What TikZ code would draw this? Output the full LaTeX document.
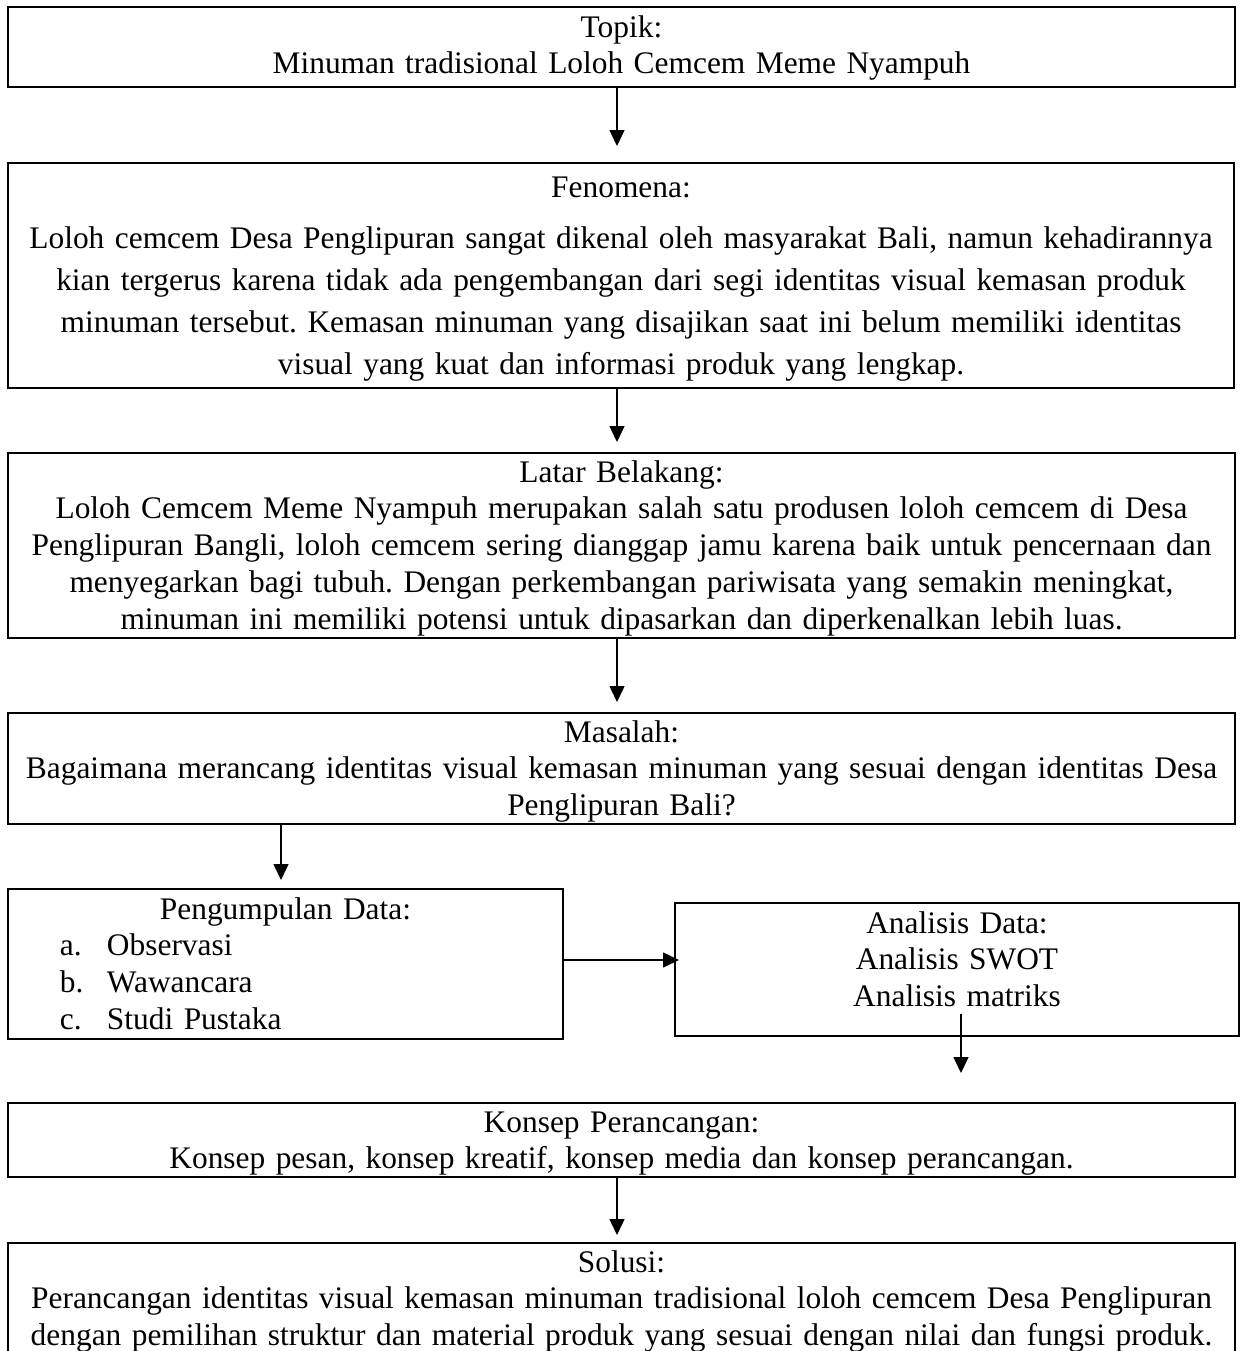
\documentclass[tikz,border=0pt]{standalone}
\usepackage{fontspec}
\setmainfont{Liberation Serif}
\usetikzlibrary{arrows.meta}
\frenchspacing
\newcommand{\dataitem}[2]{\makebox[277.5pt][l]{\hspace*{26pt}\makebox[23.5pt][l]{#1}#2}}
\tikzset{
  box/.style={draw=black, line width=1pt},
  txt/.style={anchor=base, align=center, font=\fontsize{15.7pt}{18.4pt}\selectfont},
  arr/.style={line width=0.75pt, -{Triangle[length=8pt, width=7.5pt]}, color=black},
}
\begin{document}
\begin{tikzpicture}
[every node/.style={inner sep=0pt}]
\useasboundingbox (0pt, 0pt) rectangle (622pt, -675.5pt);
% boxes
\node (topik) [box, minimum width=613.5pt, minimum height=40pt] at (310.75pt, -23.5pt) {};
\node (fenomena) [box, minimum width=613pt, minimum height=112.5pt] at (310.5pt, -137.75pt) {};
\node (latar) [box, minimum width=613.5pt, minimum height=92.5pt] at (310.75pt, -272.75pt) {};
\node (masalah) [box, minimum width=613.5pt, minimum height=55.5pt] at (310.75pt, -384.25pt) {};
\node (kumpul) [box, minimum width=277.5pt, minimum height=75pt] at (142.75pt, -482pt) {};
\node (analisis) [box, minimum width=282pt, minimum height=66.5pt] at (478.5pt, -484.75pt) {};
\node (konsep) [box, minimum width=613.5pt, minimum height=37pt] at (310.75pt, -570pt) {};
\node (solusi) [box, minimum width=613.5pt, minimum height=57pt] at (310.75pt, -650pt) {};
% texts
\node (topik-txt) [txt, text width=613.5pt] at (310.75pt, -18.5pt) {Topik:\\Minuman tradisional Loloh Cemcem Meme Nyampuh};
\node (fenomena-txt) [txt, text width=613pt] at (310.5pt, -98.5pt) {Fenomena:\\[7.1pt]
Loloh cemcem Desa Penglipuran sangat dikenal oleh masyarakat Bali, namun kehadirannya\\[2.75pt]
kian tergerus karena tidak ada pengembangan dari segi identitas visual kemasan produk\\[2.75pt]
minuman tersebut. Kemasan minuman yang disajikan saat ini belum memiliki identitas\\[2.75pt]
visual yang kuat dan informasi produk yang lengkap.};
\node (latar-txt) [txt, text width=613.5pt] at (310.75pt, -241pt) {Latar Belakang:\\
Loloh Cemcem Meme Nyampuh merupakan salah satu produsen loloh cemcem di Desa\\
Penglipuran Bangli, loloh cemcem sering dianggap jamu karena baik untuk pencernaan dan\\
menyegarkan bagi tubuh. Dengan perkembangan pariwisata yang semakin meningkat,\\
minuman ini memiliki potensi untuk dipasarkan dan diperkenalkan lebih luas.};
\node (masalah-txt) [txt, text width=613.5pt] at (310.75pt, -371pt) {Masalah:\\
Bagaimana merancang identitas visual kemasan minuman yang sesuai dengan identitas Desa\\
Penglipuran Bali?};
\node (kumpul-txt) [txt, text width=277.5pt] at (142.75pt, -459.5pt) {Pengumpulan Data:\\
\dataitem{a.}{Observasi}\\
\dataitem{b.}{Wawancara}\\
\dataitem{c.}{Studi Pustaka}};
\node (analisis-txt) [txt, text width=282pt] at (478.5pt, -466.5pt) {Analisis Data:\\Analisis SWOT\\Analisis matriks};
\node (konsep-txt) [txt, text width=613.5pt] at (310.75pt, -566pt) {Konsep Perancangan:\\
Konsep pesan, konsep kreatif, konsep media dan konsep perancangan.};
\node (solusi-txt) [txt, text width=613.5pt] at (310.75pt, -636pt) {Solusi:\\
Perancangan identitas visual kemasan minuman tradisional loloh cemcem Desa Penglipuran\\
dengan pemilihan struktur dan material produk yang sesuai dengan nilai dan fungsi produk.};
% arrows
\draw [arr] ([xshift=-2.25pt]topik.south) -- ([xshift=-2.25pt, yshift=8pt]topik.south |- fenomena.north);
\draw [arr] ([xshift=-2pt]fenomena.south) -- ([xshift=-2pt, yshift=5pt]fenomena.south |- latar.north);
\draw [arr] ([xshift=-2.25pt]latar.south) -- ([xshift=-2.25pt, yshift=5pt]latar.south |- masalah.north);
\draw [arr] ([xshift=-170.25pt]masalah.south) -- ([xshift=-170.25pt, yshift=4pt]masalah.south |- kumpul.north);
\draw [arr] ([yshift=2pt]kumpul.east) -- ([xshift=2.5pt, yshift=2pt]kumpul.east -| analisis.west);
\draw [arr] ([xshift=2pt, yshift=11.75pt]analisis.south) -- ([xshift=2pt, yshift=14.5pt]analisis.south |- konsep.north);
\draw [arr] ([xshift=-2.25pt]konsep.south) -- ([xshift=-2.25pt, yshift=3.5pt]konsep.south |- solusi.north);
\end{tikzpicture}
\end{document}
